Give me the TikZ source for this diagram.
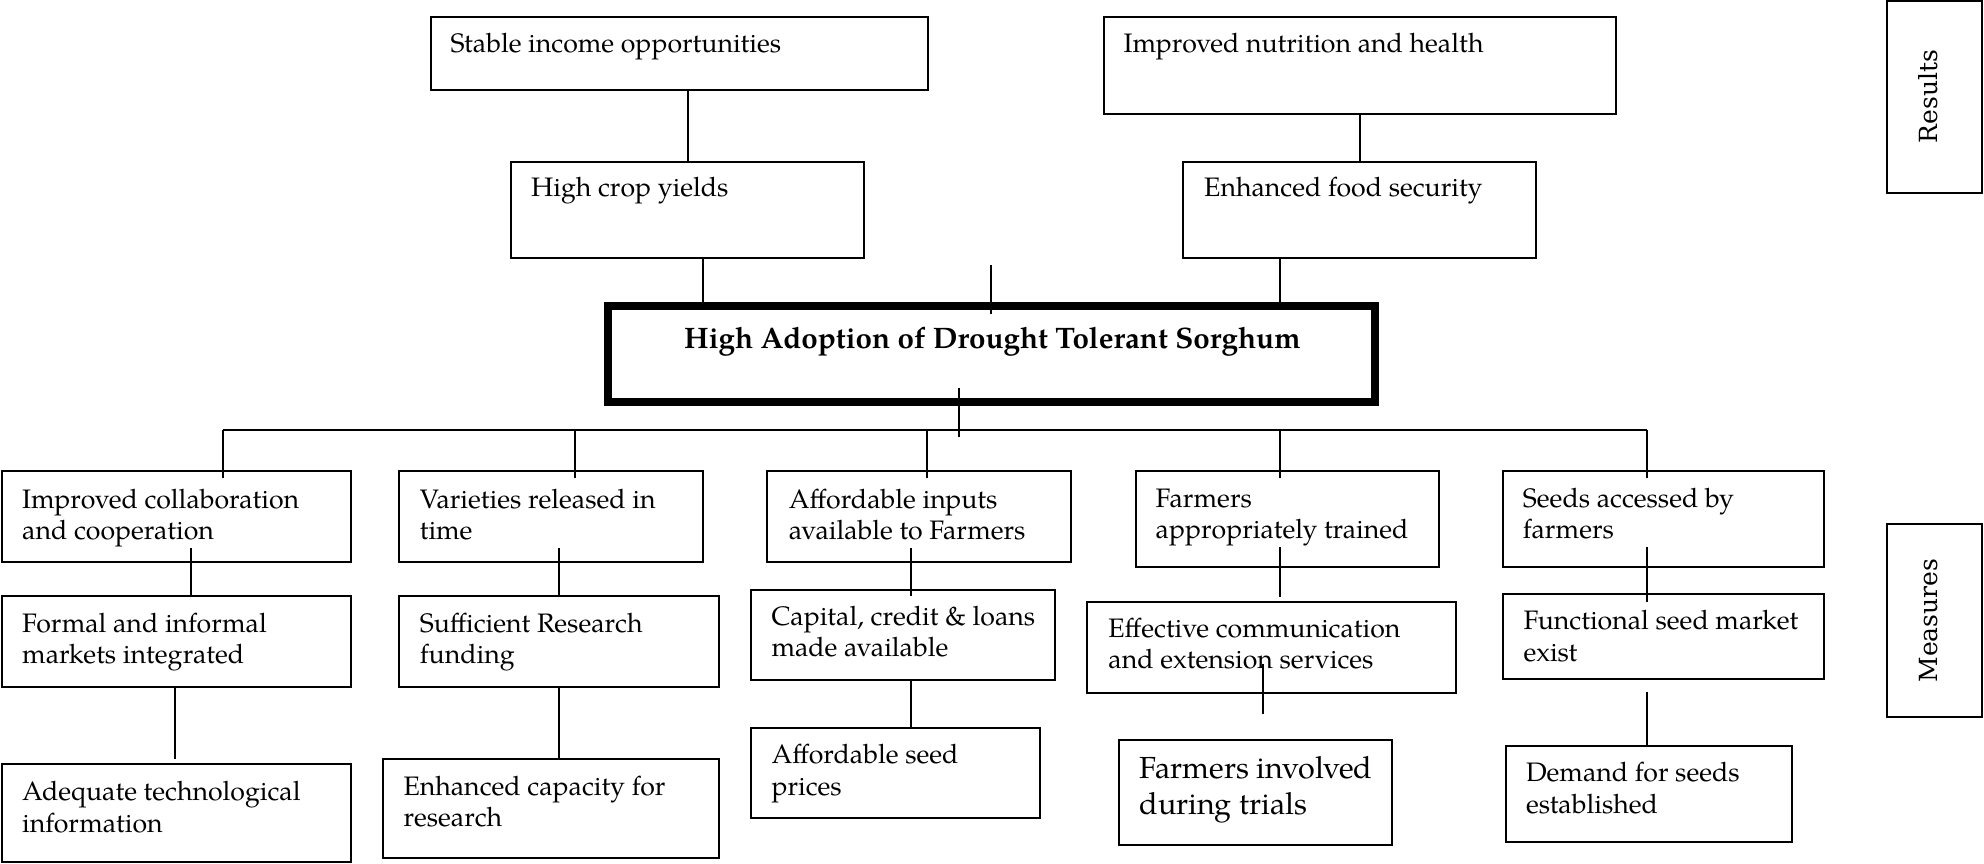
\documentclass[tikz,border=0pt]{standalone}
\usepackage{fontspec}
\setmainfont{texgyrepagella}[Extension=.otf,UprightFont=*-regular,BoldFont=*-bold,ItalicFont=*-italic,BoldItalicFont=*-bolditalic]
\newfontfamily\sidefont{DejaVu Serif}
\usetikzlibrary{calc}

% multi-line label whose reference point is the first baseline
\newcommand\lines[1]{\begin{tabular}[t]{@{}l@{}}#1\end{tabular}}

\tikzset{
  frame/.style={draw=black, line width=2pt, inner sep=0pt, outer sep=0pt, anchor=north west},
  txt/.style={inner sep=0pt, anchor=base west, font=\fontsize{26.7}{31.8}\selectfont},
  bigtxt/.style={inner sep=0pt, anchor=base west, font=\fontsize{30.5}{36}\selectfont},
  sidetxt/.style={inner sep=0pt, rotate=90, font=\sidefont\fontsize{25}{30}\selectfont},
  link/.style={draw=black, line width=2pt},
}

% box: name, left, top, right, bottom
\newcommand\boxat[5]{%
  \node[frame, minimum width={(#4-#2)*1pt}, minimum height={(#5-#3)*1pt}] (#1) at (#2,#3) {};}

\begin{document}
\begin{tikzpicture}[x=1pt, y=-1pt]
\useasboundingbox (0,0) rectangle (1984,863);

% ---------- results level ----------
\boxat{stable}{430.5}{17.3}{928}{90}
\boxat{nutrition}{1103.5}{17.3}{1615.6}{114}
\boxat{crop}{511}{161.7}{863.5}{257.7}
\boxat{food}{1183}{161.7}{1536}{257.7}

\node[txt] (stable-t) at ($(stable.north west)+(20,35.4)$) {Stable income opportunities};
\node[txt] (nutrition-t) at ($(nutrition.north west)+(20,35.4)$) {Improved nutrition and health};
\node[txt] (crop-t) at ($(crop.north west)+(20,35)$) {High crop yields};
\node[txt] (food-t) at ($(food.north west)+(21,35)$) {Enhanced food security};

% ---------- central goal ----------
\node[frame, line width=8pt, minimum width=766.5pt, minimum height=96pt] (core) at (608,306) {};
\node[txt, font=\bfseries\fontsize{29.6}{34}\selectfont] (core-t) at ($(core.north west)+(76,42.3)$) {High Adoption of Drought Tolerant Sorghum};

% ---------- side labels ----------
\boxat{results}{1886.7}{0.7}{1982}{192.7}
\boxat{measures}{1886.7}{524.3}{1982}{716.7}
\node[sidetxt] (results-t) at ($(results.center)+(-6,0)$) {Results};
\node[sidetxt] (measures-t) at ($(measures.center)+(-6,0)$) {Measures};

% ---------- measures level ----------
\boxat{collab}{2}{471}{351}{562}
\boxat{formal}{2}{596}{351}{687}
\boxat{adequate}{2}{764.3}{351}{861.5}

\boxat{varieties}{398.6}{471}{703.4}{562}
\boxat{sufficient}{398.6}{596}{719.4}{687}
\boxat{capacity}{383.3}{759}{719.4}{857.7}

\boxat{inputs}{766.6}{471}{1071}{562}
\boxat{capital}{751.3}{590}{1055}{680}
\boxat{seedprice}{751.3}{728.3}{1039.5}{818.3}

\boxat{trained}{1135.5}{471}{1439.3}{567.3}
\boxat{effective}{1087.2}{602}{1455.6}{692.7}
\boxat{involved}{1119.2}{740}{1391.6}{845}

\boxat{accessed}{1503.3}{471}{1824}{567.3}
\boxat{functional}{1503.3}{593.7}{1824}{679.3}
\boxat{demand}{1505.8}{745.7}{1792}{842.3}

\node[txt] (collab-t) at ($(collab.north west)+(20,37)$) {\lines{Improved collaboration\\and cooperation}};
\node[txt] (formal-t) at ($(formal.north west)+(20,36)$) {\lines{Formal and informal\\markets integrated}};
\node[txt] (adequate-t) at ($(adequate.north west)+(20,36)$) {\lines{Adequate technological\\information}};
\node[txt] (varieties-t) at ($(varieties.north west)+(21,37)$) {\lines{Varieties released in\\time}};
\node[txt] (sufficient-t) at ($(sufficient.north west)+(21,36)$) {\lines{Sufficient Research\\funding}};
\node[txt] (capacity-t) at ($(capacity.north west)+(20,36)$) {\lines{Enhanced capacity for\\research}};
\node[txt] (inputs-t) at ($(inputs.north west)+(22,37)$) {\lines{Affordable inputs\\available to Farmers}};
\node[txt] (capital-t) at ($(capital.north west)+(20,35)$) {\lines{Capital, credit \& loans\\made available}};
\node[txt] (seedprice-t) at ($(seedprice.north west)+(20,35)$) {\lines{Affordable seed\\prices}};
\node[txt] (trained-t) at ($(trained.north west)+(20,36)$) {\lines{Farmers\\appropriately trained}};
\node[txt] (effective-t) at ($(effective.north west)+(21,35)$) {\lines{Effective communication\\and extension services}};
\node[bigtxt] (involved-t) at ($(involved.north west)+(20,38)$) {\lines{Farmers involved\\during trials}};
\node[txt] (accessed-t) at ($(accessed.north west)+(19.4,36)$) {\lines{Seeds accessed by\\farmers}};
\node[txt] (functional-t) at ($(functional.north west)+(20,36)$) {\lines{Functional seed market\\exist}};
\node[txt] (demand-t) at ($(demand.north west)+(20,36)$) {\lines{Demand for seeds\\established}};

% ---------- connectors: results ----------
\draw[link] (687.5,0 |- stable.south) -- (687.5,0 |- crop.north);
\draw[link] (703.4,0 |- crop.south) -- ([yshift=4pt]703.4,0 |- core.north);
\draw[link] (1359.6,0 |- nutrition.south) -- (1359.6,0 |- food.north);
\draw[link] (1280,0 |- food.south) -- ([yshift=4pt]1280,0 |- core.north);

% short stubs at the central box
\coordinate (stubT1) at (991,265);
\coordinate (stubT2) at (991,314);
\coordinate (stubB1) at (959,387.7);
\coordinate (stubB2) at (959,436.7);
\draw[link] (stubT1) -- (stubT2);
\draw[link] (stubB1) -- (stubB2);

% ---------- distribution bus ----------
\coordinate (busL) at (222.6,430);
\coordinate (busR) at (1647,430);
\draw[link] (busL) -- (busR);
\draw[link] (busL) -- ([yshift=-7pt]busL |- collab.north);
\draw[link] (575,0 |- busL) -- ([yshift=-7pt]575,0 |- varieties.north);
\draw[link] (927,0 |- busL) -- ([yshift=-7pt]927,0 |- inputs.north);
\draw[link] (1280,0 |- busL) -- ([yshift=-7pt]1280,0 |- trained.north);
\draw[link] (busR) -- ([yshift=-7pt]busR |- accessed.north);

% ---------- connectors: measures ----------
\draw[link] ([yshift=14pt]191,0 |- collab.south) -- (191,0 |- formal.north);
\draw[link] (174.7,0 |- formal.south) -- ([yshift=5pt]174.7,0 |- adequate.north);

\draw[link] ([yshift=14pt]559.3,0 |- varieties.south) -- (559.3,0 |- sufficient.north);
\draw[link] (559.3,0 |- sufficient.south) -- (559.3,0 |- capacity.north);

\draw[link] ([yshift=14pt]911.4,0 |- inputs.south) -- ([yshift=-6pt]911.4,0 |- capital.north);
\draw[link] (911.4,0 |- capital.south) -- (911.4,0 |- seedprice.north);

\draw[link] ([yshift=20pt]1280,0 |- trained.south) -- ([yshift=5pt]1280,0 |- effective.north);
\draw[link] ([yshift=29pt]1263,0 |- effective.south) -- ([yshift=26pt]1263,0 |- involved.north);

\draw[link] ([yshift=20pt]1647,0 |- accessed.south) -- ([yshift=-8.6pt]1647,0 |- functional.north);
\draw[link] ([yshift=-12.4pt]1647,0 |- functional.south) -- (1647,0 |- demand.north);

\end{tikzpicture}
\end{document}
